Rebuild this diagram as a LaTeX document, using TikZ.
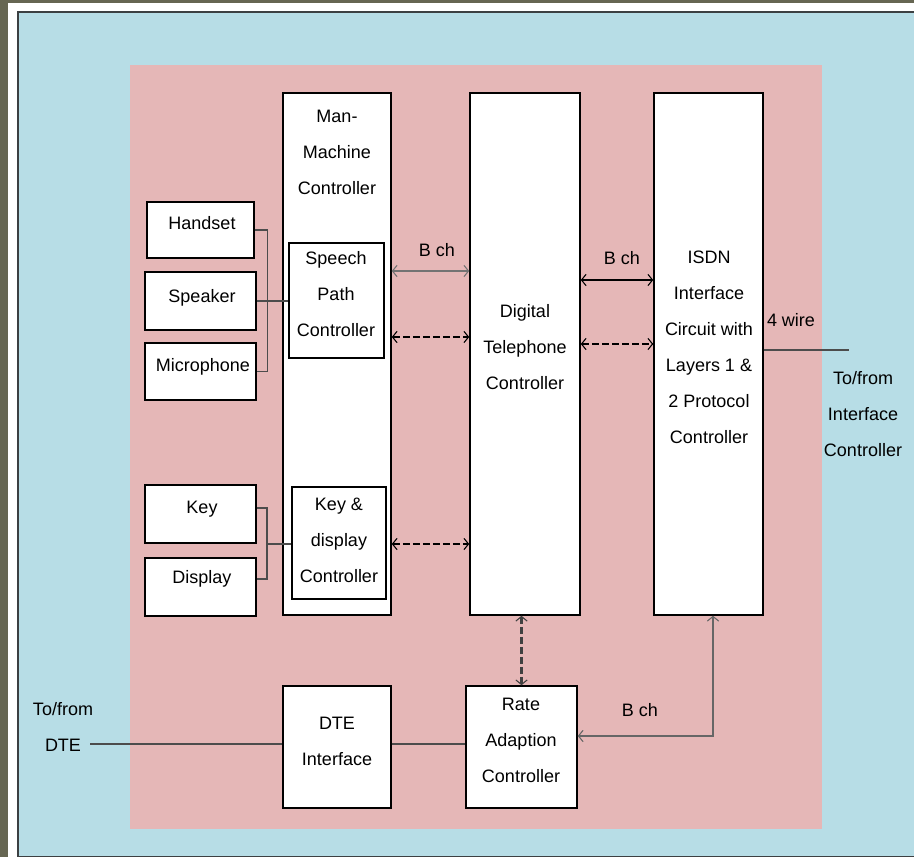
\documentclass[tikz,border=0pt]{standalone}
\usepackage{fontspec}
\setmainfont{Liberation Sans}
\usetikzlibrary{arrows.meta,fit}

\definecolor{frameolive}{RGB}{102,102,82}
\definecolor{panelblue}{RGB}{183,221,230}
\definecolor{boardpink}{RGB}{229,183,183}
\definecolor{panelrule}{RGB}{60,64,66}

\begin{document}
\begin{tikzpicture}[x=0.75pt,y=-0.75pt,
  box/.style={draw=black, fill=white, line width=1.1pt, inner sep=0pt},
  lbl/.style={font=\fontsize{13.5}{27}\selectfont, align=center, inner sep=0pt},
  link/.style={line width=0.9pt, draw=black!70},
  sig/.style={line width=0.9pt, {Straight Barb[length=3.5pt,width=8.5pt,line width=0.8pt]}-{Straight Barb[length=3.5pt,width=8.5pt,line width=0.8pt]}},
  ctl/.style={sig, line width=1.8pt, dash pattern=on 5pt off 2.5pt},
]
\useasboundingbox (0,0) rectangle (914,857);

% outer frame and panels
\fill[frameolive] (0,0) rectangle (914,857);
\fill[white] (8,3) rectangle (914,857);
\filldraw[fill=panelblue, draw=panelrule, line width=1.3pt] (18,12) rectangle (918,856.5);
\fill[boardpink] (130,65) rectangle (822,829);

% main controller columns
\node[box, fit={(283,93) (391,615)}] (mmc) {};
\node[box, fit={(470,93) (580,615)}] (dtc) {};
\node[box, fit={(654,93) (763,615)}] (isdn) {};

% sub-controllers inside the man-machine controller
\node[box, fit={(289,243) (384,358)}] (speech) {};
\node[box, fit={(292,487) (386,599)}] (keydisp) {};

% peripherals
\node[box, fit={(147,202) (254,258)}] (handset) {};
\node[box, fit={(145,272) (256,330)}] (speaker) {};
\node[box, fit={(145,343) (256,400)}] (mic) {};
\node[box, fit={(145,485) (256,543)}] (key) {};
\node[box, fit={(145,558) (256,616)}] (display) {};

% bottom row
\node[box, fit={(283,686) (391,808)}] (dte) {};
\node[box, fit={(466,686) (577,808)}] (rate) {};

% box texts
\node[lbl] (tmmc) at (337,152) {Man-\\Machine\\Controller};
\node[lbl] (tspeech) at (336,294) {Speech\\Path\\Controller};
\node[lbl] (tkeydisp) at (339,540) {Key \&\\display\\Controller};
\node[lbl] (tdtc) at (525,347) {Digital\\Telephone\\Controller};
\node[lbl] (tisdn) at (709,347) {ISDN\\Interface\\Circuit with\\Layers 1 \&\\2 Protocol\\Controller};
\node[lbl] (tdte) at (337,741) {DTE\\Interface};
\node[lbl] (trate) at (521,740) {Rate\\Adaption\\Controller};
\node[lbl, anchor=base] (thandset) at (202,229) {Handset};
\node[lbl, anchor=base] (tspeaker) at (202,302) {Speaker};
\node[lbl, anchor=base] (tmic) at (203,371) {Microphone};
\node[lbl, anchor=base] (tkey) at (202,513) {Key};
\node[lbl, anchor=base] (tdisplay) at (202,583) {Display};

% external ends
\coordinate (ifcend) at (849,350);
\coordinate (dteend) at (90,744);
\node[lbl] (tifc) at (863,414) {To/from\\Interface\\Controller};
\node[lbl] (tdteext) at (63,727) {To/from\\DTE};

% audio peripherals to speech path controller
\draw[link] (handset.east) -- ++(13,0) |- (mic.east);
\draw[link] (speaker.east) -- (speech.west |- speaker.east);

% key and display to key & display controller
\draw[link] (key.east |- 0,508) -- (267,508) |- (display.east |- 0,579);
\draw[link] (267,544) -- (keydisp.west |- 0,544);

% man-machine controller <-> digital telephone controller
\draw[sig, draw=black!55] (mmc.east |- 0,271) -- (dtc.west |- 0,271);
\node[lbl] (bch1) at (437,250) {B ch};
\draw[ctl] (mmc.east |- 0,337) -- (dtc.west |- 0,337);
\draw[ctl] (mmc.east |- 0,544) -- (dtc.west |- 0,544);

% digital telephone controller <-> ISDN interface
\draw[sig] (dtc.east |- 0,280) -- (isdn.west |- 0,280);
\node[lbl] (bch2) at (622,258) {B ch};
\draw[ctl] (dtc.east |- 0,344) -- (isdn.west |- 0,344);

% ISDN line out
\draw[link] (isdn.east |- ifcend) -- (ifcend);
\node[lbl] (t4w) at (791,320) {4 wire};

% rate adaption links
\draw[ctl, draw=black!75] (rate.north |- dtc.south) -- (rate.north);
\draw[sig, draw=black!60] (isdn.south -| 713,0) |- (rate.east |- 0,736);
\node[lbl] (bch3) at (640,710) {B ch};

% DTE path
\draw[link] (dteend) -- (dte.west |- dteend);
\draw[link] (dte.east |- dteend) -- (rate.west |- dteend);
\end{tikzpicture}
\end{document}
